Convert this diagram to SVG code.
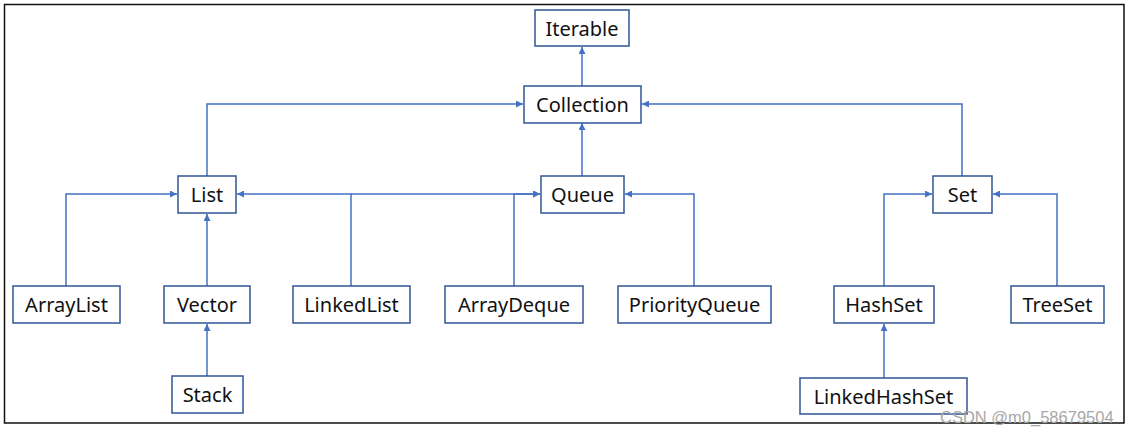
<svg xmlns="http://www.w3.org/2000/svg" width="1131" height="436" viewBox="0 0 1131 436">
<style>
.box{fill:#fff;stroke:#2F5597;stroke-width:1.5}
.lbl{font-family:"Noto Sans","Liberation Sans",sans-serif;font-size:20px;fill:#111;text-anchor:middle;dominant-baseline:central}
.c{fill:none;stroke:#4472C4;stroke-width:1.5;marker-end:url(#arr)}
.wm{font-family:"Liberation Sans",sans-serif;font-size:16.5px;fill:#a8a8a8}
</style>
<defs>
<marker id="arr" viewBox="0 0 10 10" refX="10" refY="5" markerWidth="8" markerHeight="7" markerUnits="userSpaceOnUse" orient="auto">
<path d="M0,0 L10,5 L0,10 Z" fill="#4472C4"/>
</marker>
</defs>
<rect x="0" y="0" width="1131" height="436" fill="#fff"/>
<rect x="4.5" y="4.5" width="1119.5" height="418.5" fill="none" stroke="#111" stroke-width="1.5"/>
<g id="connectors">
<path class="c" d="M582,86 V47"/>
<path class="c" d="M207,176 V104 H523"/>
<path class="c" d="M962,176 V104 H642"/>
<path class="c" d="M582,176 V123"/>
<path class="c" d="M66,286 V194 H177"/>
<path class="c" d="M207,286 V214"/>
<path class="c" d="M351,286 V194 H237"/>
<path class="c" d="M351,194 H540"/>
<path class="c" d="M514,286 V194 H540"/>
<path class="c" d="M694,286 V194 H625"/>
<path class="c" d="M884,286 V194 H932"/>
<path class="c" d="M1057,286 V194 H993"/>
<path class="c" d="M884,378 V324"/>
<path class="c" d="M207,376 V324"/>
</g>
<g id="Iterable"><rect class="box" x="535" y="10" width="94" height="36"/><text class="lbl" x="582" y="28">Iterable</text></g>
<g id="Collection"><rect class="box" x="524" y="86" width="117" height="37"/><text class="lbl" x="582.5" y="104.5">Collection</text></g>
<g id="List"><rect class="box" x="178" y="176" width="58" height="37"/><text class="lbl" x="207" y="194.5">List</text></g>
<g id="Queue"><rect class="box" x="541" y="176" width="83" height="37"/><text class="lbl" x="582.5" y="194.5">Queue</text></g>
<g id="Set"><rect class="box" x="933" y="176" width="59" height="37"/><text class="lbl" x="962.5" y="194.5">Set</text></g>
<g id="ArrayList"><rect class="box" x="13" y="286" width="107" height="37"/><text class="lbl" x="66.5" y="304.5">ArrayList</text></g>
<g id="Vector"><rect class="box" x="164" y="286" width="86" height="37"/><text class="lbl" x="207" y="304.5">Vector</text></g>
<g id="LinkedList"><rect class="box" x="293" y="286" width="117" height="37"/><text class="lbl" x="351.5" y="304.5">LinkedList</text></g>
<g id="ArrayDeque"><rect class="box" x="445" y="286" width="138" height="37"/><text class="lbl" x="514" y="304.5">ArrayDeque</text></g>
<g id="PriorityQueue"><rect class="box" x="618" y="286" width="153" height="37"/><text class="lbl" x="694.5" y="304.5">PriorityQueue</text></g>
<g id="HashSet"><rect class="box" x="834" y="286" width="100" height="37"/><text class="lbl" x="884" y="304.5">HashSet</text></g>
<g id="TreeSet"><rect class="box" x="1011" y="286" width="93" height="37"/><text class="lbl" x="1057.5" y="304.5">TreeSet</text></g>
<g id="Stack"><rect class="box" x="172" y="376" width="71" height="37"/><text class="lbl" x="207.5" y="394.5">Stack</text></g>
<g id="LinkedHashSet"><rect class="box" x="800" y="378" width="167" height="36"/><text class="lbl" x="883.5" y="396">LinkedHashSet</text></g>
<text class="wm" x="940" y="423">CSDN @m0_58679504</text>
</svg>
